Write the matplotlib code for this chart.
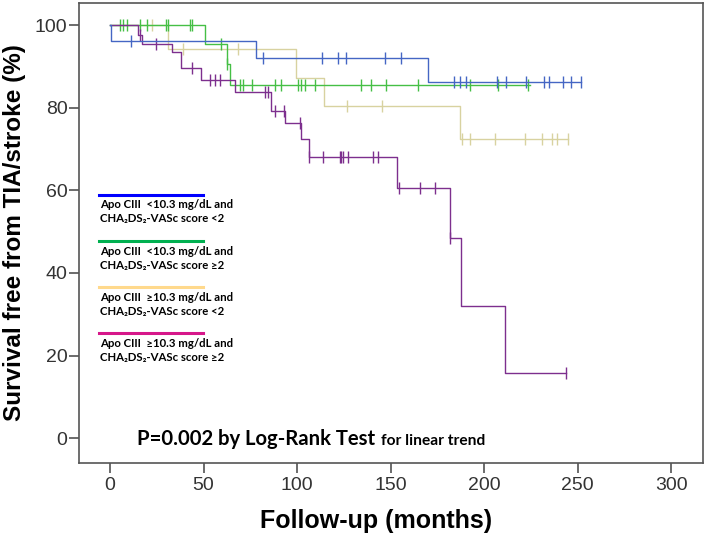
import numpy as np
import matplotlib
matplotlib.use('Agg')
import matplotlib.pyplot as plt

# Kaplan-Meier steps: time of each level change (months) and survival level (%)
blue_t = [0, 0.5, 78, 170, 252]
blue_s = [100, 96.2, 92.1, 86.1, 86.1]
blue_cens = [11, 82, 113.6, 122, 126.4, 146.8, 155.7, 183.7, 186.9, 190.4, 207,
             211.8, 222.5, 232.2, 234.4, 242, 246.5, 252]

green_t = [0, 51, 62.3, 64.4, 224.6]
green_s = [100, 95.4, 90.5, 85.5, 85.5]
green_cens = [5.3, 7.1, 8.9, 16, 19.6, 30, 31, 42.7, 44, 59.3, 62.5, 69.4, 71.2,
              76, 88, 91.3, 100.5, 102, 104, 109.5, 134.4, 139.7, 147.7, 164.6,
              192.2, 207.3, 223.3]

tan_t = [0, 30.8, 99.7, 114.4, 186.9, 245]
tan_s = [100, 94.1, 87.1, 80.5, 72.4, 72.4]
tan_cens = [22.4, 39, 68.5, 126.7, 145.6, 188.3, 192.5, 206, 222, 230.9, 236.3,
            239, 245]

purple_t = [0, 15.1, 16.9, 32.9, 38.2, 48.9, 66.7, 86, 93.4, 102.3, 106.4, 153.4,
            181.9, 187.7, 210.9, 243.5]
purple_s = [100, 97.6, 95.4, 93.5, 89.7, 86.8, 83.8, 79.2, 76.3, 72.3, 68.1, 60.5,
            48.5, 32.1, 15.8, 15.8]
purple_cens = [16, 24.6, 44, 53.4, 56, 58.7, 82.8, 84.5, 88, 93, 101.4, 106.4,
               113.9, 122.8, 123.7, 124.6, 127.2, 140.6, 143.2, 154.5, 165.5,
               173.5, 181.9, 243.5]

legend_labels = [
    "Apo CIII  <10.3 mg/dL and\nCHA\u2082DS\u2082-VASc score <2",
    "Apo CIII  <10.3 mg/dL and\nCHA\u2082DS\u2082-VASc score \u22652",
    "Apo CIII  \u226510.3 mg/dL and\nCHA\u2082DS\u2082-VASc score <2",
    "Apo CIII  \u226510.3 mg/dL and\nCHA\u2082DS\u2082-VASc score \u22652",
]
legend_colors = ['#0000ff', '#00b050', '#ffd98c', '#d6178a']

x_ticks = [0, 50, 100, 150, 200, 250, 300]
y_ticks = [0, 20, 40, 60, 80, 100]

plt.rcParams['font.family'] = ['Liberation Sans', 'DejaVu Sans']

fig = plt.figure(figsize=(7.08, 5.37), dpi=100)
ax = fig.add_axes([0.1109, 0.1384, 0.8816, 0.8566])


def km(t, s, cens, color):
    t = np.array(t)
    s = np.array(s)
    ax.step(t, s, where='post', color=color, lw=1.0)
    idx = np.searchsorted(t, cens, side='right') - 1
    ax.plot(cens, s[idx], ls='none', marker='|', ms=8, mew=1.0, color=color)


km(tan_t, tan_s, tan_cens, '#d8d2a0')
km(green_t, green_s, green_cens, '#45bf45')
km(purple_t, purple_s, purple_cens, '#7d2f8e')
km(blue_t, blue_s, blue_cens, '#4566c4')

ax.set_xlim(-16.8, 316.8)
ax.set_ylim(-5.9, 105.4)
ax.set_xticks(x_ticks)
ax.set_yticks(y_ticks)

for sp in ax.spines.values():
    sp.set_color('#555555')
    sp.set_linewidth(1.2)
ax.tick_params(axis='both', direction='out', length=7, width=1.1,
               color='#444444', labelcolor='#333333', labelsize=14)
ax.tick_params(axis='y', pad=1)
ax.tick_params(axis='x', pad=3)

ax.set_xlabel('Follow-up (months)', fontsize=18, fontweight='bold')
ax.set_ylabel('Survival free from TIA/stroke (%)', fontsize=17.5, fontweight='bold')
ax.xaxis.set_label_coords(0.477, -0.1)
ax.yaxis.set_label_coords(-0.084, 0.5)

# legend drawn by hand, as in the original
line_y = [0.583, 0.481, 0.381, 0.281]
for ly, lab, col in zip(line_y, legend_labels, legend_colors):
    ax.plot([0.033, 0.199], [ly, ly], color=col, lw=2.2, transform=ax.transAxes)
    ax.text(0.035, ly - 0.01, lab, transform=ax.transAxes, ha='left', va='top',
            fontsize=8.2, fontweight='bold', linespacing=1.3,
            family=['Lato', 'DejaVu Sans'])

t1 = ax.text(0.0937, 0.0385, 'P=0.002 by Log-Rank Test', transform=ax.transAxes,
             ha='left', va='baseline', fontsize=14.6, fontweight='bold',
             family=['Lato', 'DejaVu Sans'])
# put the smaller part right after the first one, on the same baseline
fig.canvas.draw()
bb = t1.get_window_extent()
x_end = ax.transAxes.inverted().transform((bb.x1 + 6, 0))[0]
ax.text(x_end, 0.0385, 'for linear trend', transform=ax.transAxes,
        ha='left', va='baseline', fontsize=11.2, fontweight='bold',
        family=['Lato', 'DejaVu Sans'])

fig.savefig('out.png', dpi=100)
